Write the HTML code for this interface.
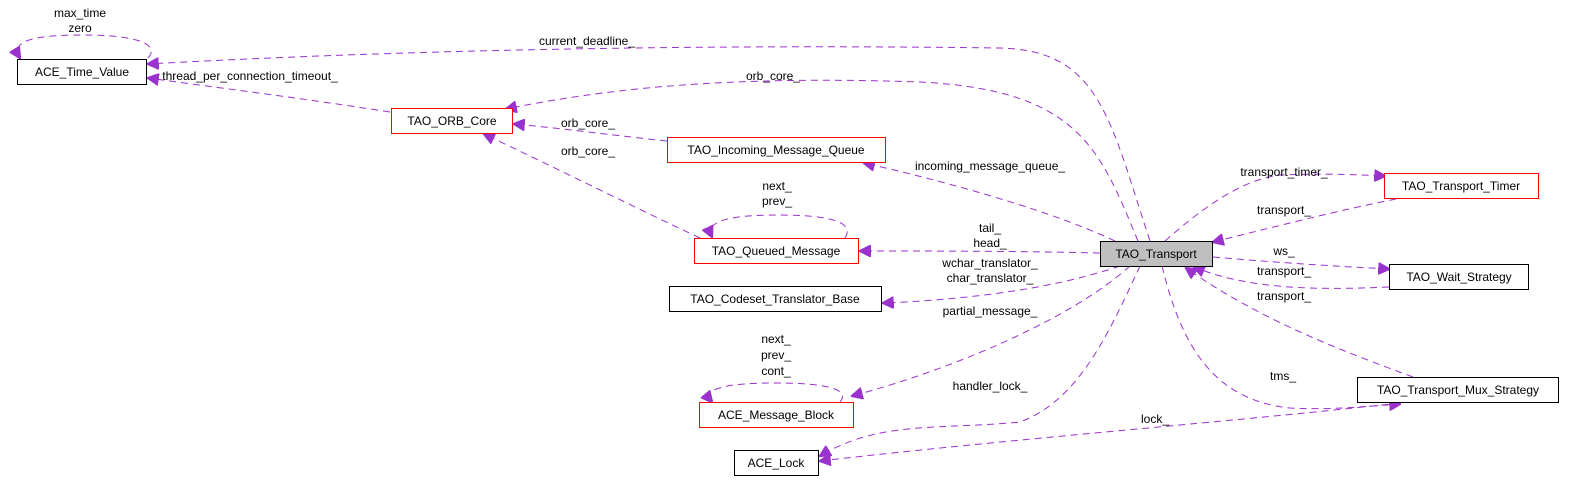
<!DOCTYPE html>
<html><head><meta charset="utf-8"><style>
html,body{margin:0;padding:0;background:#fff;}
svg{display:block;}
text{font-family:"Liberation Sans","DejaVu Sans",sans-serif;font-size:12px;fill:#000;}
.e{fill:none;stroke:#9a32cd;stroke-width:1;stroke-dasharray:7,5;}
.a{fill:#9a32cd;stroke:#9a32cd;}
</style></head><body>
<svg width="1572" height="480" viewBox="0 0 1572 480" xmlns="http://www.w3.org/2000/svg">
<defs><marker id="m" viewBox="0 0 10 10" refX="9" refY="5" markerWidth="12" markerHeight="12" markerUnits="userSpaceOnUse" orient="auto"><path d="M0,0 L10,5 L0,10 z" class="a"/></marker></defs>
<g marker-end="url(#m)">
<path class="e" d="M148,58 C160,45 140,35 82,35 C30,35 10,42 20,58"/>
<path class="e" d="M1150,241 C1110,120 1100,50 1000,48 C700,44 400,50 148,64"/>
<path class="e" d="M390,112 C300,98 220,88 148,78"/>
<path class="e" d="M1138,241 C1100,150 1080,90 920,82 C720,75 600,90 506,109"/>
<path class="e" d="M667,141 C610,135 560,128 514,124"/>
<path class="e" d="M700,238 C640,210 560,170 484,134"/>
<path class="e" d="M1115,241 C1050,210 940,180 864,163"/>
<path class="e" d="M845,238 C855,222 830,215 778,215 C725,215 705,222 712,237"/>
<path class="e" d="M1100,253 C1010,251 940,251 860,251"/>
<path class="e" d="M1120,266 C1050,290 960,300 883,303"/>
<path class="e" d="M1130,266 C1070,320 950,370 852,396"/>
<path class="e" d="M840,402 C850,390 830,383 776,383 C720,383 702,390 712,402"/>
<path class="e" d="M1140,266 C1110,330 1080,400 1020,422 C940,430 880,420 820,456"/>
<path class="e" d="M1400,403 C1250,420 1000,440 820,461"/>
<path class="e" d="M1162,266 C1180,340 1210,400 1290,408 C1330,410 1360,407 1400,404"/>
<path class="e" d="M1413,377 C1340,350 1260,320 1186,268"/>
<path class="e" d="M1213,257 C1270,262 1330,266 1389,269"/>
<path class="e" d="M1389,287 C1320,290 1250,290 1194,267"/>
<path class="e" d="M1165,241 C1200,210 1240,180 1280,175 C1330,173 1360,175 1385,176"/>
<path class="e" d="M1396,199 C1340,210 1270,228 1213,242"/>
</g>
<g stroke-width="1">
<rect x="17.5" y="59.5" width="129" height="25" fill="#fff" stroke="#000"/>
<rect x="391.5" y="108.5" width="121" height="25" fill="#fff" stroke="#f00"/>
<rect x="667.5" y="137.5" width="218" height="25" fill="#fff" stroke="#f00"/>
<rect x="694.5" y="238.5" width="164" height="25" fill="#fff" stroke="#f00"/>
<rect x="669.5" y="286.5" width="212" height="25" fill="#fff" stroke="#000"/>
<rect x="699.5" y="402.5" width="154" height="25" fill="#fff" stroke="#f00"/>
<rect x="734.5" y="450.5" width="84" height="25" fill="#fff" stroke="#000"/>
<rect x="1100.5" y="241.5" width="112" height="25" fill="#bfbfbf" stroke="#000"/>
<rect x="1384.5" y="173.5" width="154" height="25" fill="#fff" stroke="#f00"/>
<rect x="1389.5" y="264.5" width="139" height="25" fill="#fff" stroke="#000"/>
<rect x="1357.5" y="377.5" width="201" height="25" fill="#fff" stroke="#000"/>
</g>
<g text-anchor="middle">
<text x="82" y="76">ACE_Time_Value</text>
<text x="452" y="125">TAO_ORB_Core</text>
<text x="776" y="154">TAO_Incoming_Message_Queue</text>
<text x="776" y="255">TAO_Queued_Message</text>
<text x="775" y="303">TAO_Codeset_Translator_Base</text>
<text x="776" y="419">ACE_Message_Block</text>
<text x="776" y="467">ACE_Lock</text>
<text x="1156" y="258">TAO_Transport</text>
<text x="1461" y="190">TAO_Transport_Timer</text>
<text x="1459" y="281">TAO_Wait_Strategy</text>
<text x="1458" y="394">TAO_Transport_Mux_Strategy</text>
<text x="80" y="17">max_time</text>
<text x="80" y="32">zero</text>
<text x="587" y="45">current_deadline_</text>
<text x="250" y="80">thread_per_connection_timeout_</text>
<text x="773" y="80">orb_core_</text>
<text x="588" y="127">orb_core_</text>
<text x="588" y="155">orb_core_</text>
<text x="990" y="170">incoming_message_queue_</text>
<text x="777" y="190">next_</text>
<text x="777" y="205">prev_</text>
<text x="990" y="232">tail_</text>
<text x="990" y="247">head_</text>
<text x="990" y="267">wchar_translator_</text>
<text x="990" y="282">char_translator_</text>
<text x="990" y="315">partial_message_</text>
<text x="776" y="343">next_</text>
<text x="776" y="359">prev_</text>
<text x="776" y="375">cont_</text>
<text x="990" y="390">handler_lock_</text>
<text x="1155" y="423">lock_</text>
<text x="1283" y="380">tms_</text>
<text x="1284" y="176">transport_timer_</text>
<text x="1284" y="214">transport_</text>
<text x="1284" y="255">ws_</text>
<text x="1284" y="275">transport_</text>
<text x="1284" y="300">transport_</text>
</g>
</svg>
</body></html>
